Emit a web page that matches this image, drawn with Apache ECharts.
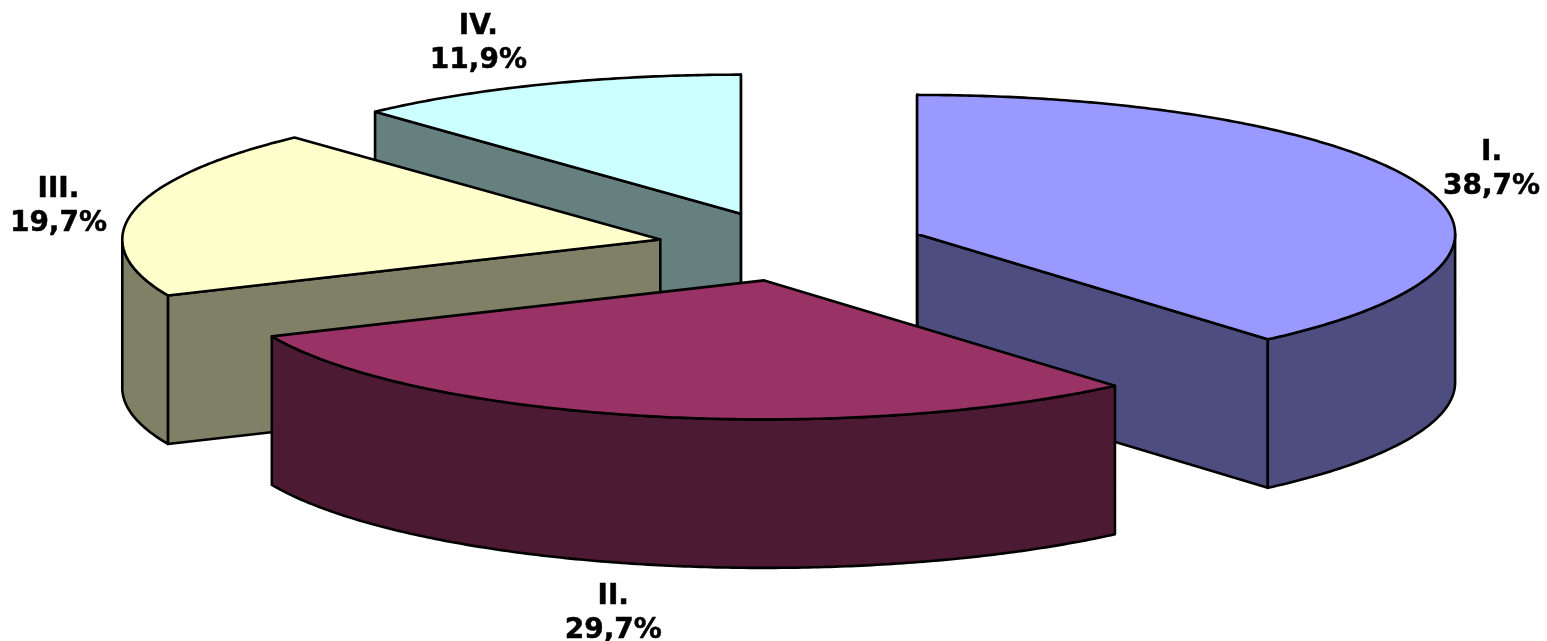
<!DOCTYPE html>
<html lang="en" style="height: 100%">
<head>
  <meta charset="utf-8">
</head>
<body style="height: 100%; margin: 0; background: #fff">
  <div id="container" style="width: 1547px; height: 641px"></div>

  <script src="https://cdn.jsdelivr.net/npm/echarts@6/dist/echarts.min.js"></script>
  <script>
    var categories = ['I.', 'II.', 'III.', 'IV.'];
    var values = [38.7, 29.7, 19.7, 11.9];
    var topColors = ['#9999ff', '#993366', '#ffffcc', '#ccffff'];
    var sideColors = ['#4d4d80', '#4d1a33', '#808066', '#668080'];

    // back to front, the exploded slices overlap
    var paintOrder = [3, 2, 0, 1];

    // pie projection
    var CX = 792, CY = 246, RX = 538, RY = 139, DEPTH = 148.5, EXPLODE = 0.25;
    // small per slice correction of the explode position
    var sliceNudge = [[-1, 0], [2, 0.5], [0, 0.5], [-2, 0]];
    // label centre relative to the rim point at the slice's middle angle
    var labelOffsets = [[70, -16], [-32, 49], [-75, -5], [-66, -41]];

    var total = values.reduce(function (a, b) { return a + b; }, 0);

    function angleBefore(idx) {
      var sum = 0;
      for (var i = 0; i < idx; i++) sum += values[i];
      return sum / total * 2 * Math.PI;
    }

    function renderSlice(params, api) {
      var idx = api.value(0);
      var a0 = angleBefore(idx);
      var a1 = a0 + api.value(1) / total * 2 * Math.PI;
      var mid = (a0 + a1) / 2;
      var ox = CX + EXPLODE * RX * Math.sin(mid) + sliceNudge[idx][0];
      var oy = CY - EXPLODE * RY * Math.cos(mid) + sliceNudge[idx][1];

      function rim(a, dy) {
        return [ox + RX * Math.sin(a), oy - RY * Math.cos(a) + (dy || 0)];
      }
      function arc(from, to, dy) {
        var pts = [];
        var n = Math.max(2, Math.ceil((to - from) / 0.01));
        for (var i = 0; i <= n; i++) pts.push(rim(from + (to - from) * i / n, dy));
        return pts;
      }
      function face(points, fill) {
        return {
          type: 'polygon',
          shape: { points: points },
          style: { fill: fill, stroke: '#000', lineWidth: 2.6, lineJoin: 'round' }
        };
      }
      function wall(a) {
        return face([[ox, oy], rim(a), rim(a, DEPTH), [ox, oy + DEPTH]], sideColors[idx]);
      }

      var children = [];
      // radial walls facing the viewer (or edge on)
      if (Math.sin(a1) > -1e-9) children.push(wall(a1));
      if (Math.sin(a0) < 1e-9) children.push(wall(a0));

      // outer wall, only the front half of the ellipse shows
      var f0 = Math.max(a0, Math.PI / 2), f1 = Math.min(a1, 1.5 * Math.PI);
      if (f1 > f0) {
        children.push(face(arc(f0, f1).concat(arc(f0, f1, DEPTH).reverse()), sideColors[idx]));
      }

      children.push(face([[ox, oy]].concat(arc(a0, a1)), topColors[idx]));

      var bottom = Math.cos(mid) < -0.5 ? DEPTH : 0;
      var anchor = rim(mid, bottom);
      children.push({
        type: 'text',
        x: anchor[0] + labelOffsets[idx][0],
        y: anchor[1] + labelOffsets[idx][1],
        style: {
          text: categories[idx] + '\n' + String(api.value(1)).replace('.', ',') + '%',
          fontFamily: 'DejaVu Sans',
          fontWeight: 'bold',
          fontSize: 28,
          lineHeight: 34,
          fill: '#000',
          stroke: '#000',
          lineWidth: 0.5,
          align: 'center',
          verticalAlign: 'middle'
        }
      });
      return { type: 'group', children: children };
    }

    var myChart = echarts.init(document.getElementById('container'), null, { renderer: 'canvas' });

    myChart.setOption({
      animation: false,
      backgroundColor: '#fff',
      series: [{
        type: 'custom',
        coordinateSystem: 'none',
        silent: true,
        renderItem: renderSlice,
        data: paintOrder.map(function (i) { return [i, values[i]]; })
      }]
    });
  </script>
</body>
</html>
